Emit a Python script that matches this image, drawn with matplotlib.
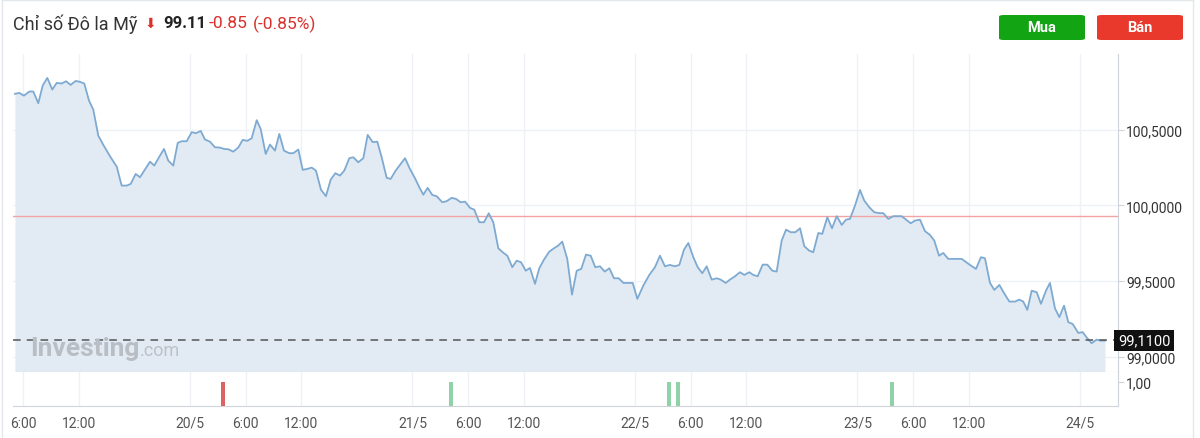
import matplotlib
matplotlib.use("Agg")
import matplotlib.pyplot as plt
from matplotlib.patches import FancyBboxPatch
from matplotlib.lines import Line2D
from matplotlib.ticker import FuncFormatter

plt.rcParams['font.family'] = ['Roboto', 'DejaVu Sans']

# hours counted from 19/5 00:00
hours = [5.12, 5.59, 6.09, 6.67, 7.10, 7.64, 8.11, 8.61, 9.15, 9.62,
         10.16, 10.63, 11.13, 11.67, 12.14, 12.60, 13.11, 13.57, 14.11, 14.65,
         15.37, 16.10, 16.63, 17.17, 17.61, 18.14, 18.61, 19.15, 19.69, 20.15,
         20.66, 21.20, 21.66, 22.20, 22.68, 23.11, 23.65, 24.19, 24.65, 25.16,
         25.62, 26.16, 26.70, 27.24, 27.67, 28.13, 28.67, 29.21, 29.69, 30.18,
         30.66, 31.20, 31.63, 32.17, 32.63, 33.17, 33.64, 34.14, 34.71, 35.15,
         35.69, 36.16, 36.66, 37.13, 37.59, 38.13, 38.67, 39.18, 39.68, 40.18,
         40.65, 41.19, 41.62, 42.16, 42.70, 43.17, 43.71, 44.21, 44.68, 45.22,
         45.65, 46.19, 46.73, 47.20, 47.73, 48.27, 48.74, 49.17, 49.64, 50.14,
         50.61, 51.22, 51.69, 52.23, 52.70, 53.20, 53.67, 54.21, 54.67, 55.21,
         55.72, 56.23, 56.72, 57.26, 57.73, 58.23, 58.77, 59.24, 59.71, 60.22,
         60.68, 61.22, 61.68, 62.19, 62.76, 63.27, 63.73, 64.16, 64.70, 65.21,
         65.72, 66.21, 66.72, 67.23, 67.72, 68.23, 68.74, 69.24, 69.74, 70.25,
         70.75, 71.76, 72.26, 72.90, 73.55, 74.16, 74.70, 75.24, 75.78, 76.32,
         76.79, 77.29, 77.76, 78.30, 78.77, 79.27, 79.74, 80.28, 80.82, 81.25,
         81.79, 82.25, 82.79, 83.33, 83.80, 84.34, 84.77, 85.24, 85.78, 86.28,
         86.82, 87.29, 87.83, 88.30, 88.81, 89.30, 89.81, 90.27, 90.78, 91.24,
         91.78, 92.21, 92.75, 93.26, 93.77, 94.31, 94.77, 95.20, 95.74, 96.28,
         96.74, 97.28, 97.82, 98.36, 98.79, 99.33, 99.87, 100.77, 101.75, 102.21,
         102.75, 103.29, 103.83, 104.29, 104.80, 105.26, 105.80, 107.25, 108.14, 108.79,
         109.33, 109.76, 110.30, 110.77, 111.31, 111.81, 112.39, 113.00, 113.46, 113.89,
         114.33, 114.80, 115.34, 115.80, 116.34, 116.77, 117.31, 117.78, 118.29, 118.75,
         119.22, 119.83, 120.30, 120.80, 121.27, 121.81, 122.24, 122.70]

prices = [100.737, 100.743, 100.725, 100.752, 100.752, 100.675, 100.791, 100.842, 100.765, 100.809,
          100.805, 100.820, 100.796, 100.822, 100.816, 100.805, 100.692, 100.633, 100.461, 100.400,
          100.325, 100.256, 100.131, 100.131, 100.142, 100.208, 100.186, 100.237, 100.289, 100.263,
          100.318, 100.373, 100.296, 100.263, 100.413, 100.424, 100.424, 100.484, 100.477, 100.492,
          100.435, 100.421, 100.384, 100.382, 100.373, 100.371, 100.355, 100.382, 100.433, 100.426,
          100.444, 100.563, 100.505, 100.340, 100.402, 100.362, 100.472, 100.362, 100.345, 100.345,
          100.369, 100.235, 100.241, 100.250, 100.230, 100.104, 100.061, 100.170, 100.213, 100.197,
          100.230, 100.312, 100.318, 100.285, 100.312, 100.466, 100.418, 100.421, 100.318, 100.182,
          100.175, 100.230, 100.274, 100.312, 100.241, 100.180, 100.120, 100.071, 100.116, 100.069,
          100.061, 100.021, 100.028, 100.050, 100.043, 100.021, 100.025, 99.984, 99.972, 99.889,
          99.889, 99.948, 99.889, 99.717, 99.691, 99.668, 99.592, 99.635, 99.625, 99.569,
          99.587, 99.482, 99.585, 99.642, 99.695, 99.717, 99.735, 99.761, 99.647, 99.411,
          99.569, 99.581, 99.675, 99.668, 99.592, 99.598, 99.563, 99.585, 99.519, 99.519,
          99.488, 99.488, 99.383, 99.470, 99.541, 99.592, 99.668, 99.598, 99.607, 99.598,
          99.607, 99.708, 99.752, 99.658, 99.592, 99.552, 99.598, 99.510, 99.519, 99.510,
          99.488, 99.510, 99.532, 99.559, 99.541, 99.559, 99.541, 99.532, 99.609, 99.609,
          99.569, 99.563, 99.768, 99.840, 99.823, 99.823, 99.849, 99.731, 99.702, 99.691,
          99.818, 99.812, 99.922, 99.849, 99.929, 99.871, 99.906, 99.911, 99.999, 100.102,
          100.032, 99.988, 99.955, 99.949, 99.949, 99.911, 99.929, 99.929, 99.882, 99.900,
          99.906, 99.830, 99.805, 99.768, 99.668, 99.686, 99.647, 99.647, 99.607, 99.581,
          99.658, 99.651, 99.488, 99.442, 99.475, 99.422, 99.365, 99.365, 99.378, 99.365,
          99.310, 99.437, 99.427, 99.350, 99.437, 99.488, 99.321, 99.262, 99.338, 99.229,
          99.217, 99.158, 99.163, 99.123, 99.090, 99.114, 99.107, 99.107]

prev_close = 99.93
last_price = 99.11

signal_hours = [27.56, 52.16, 75.67, 76.64, 99.73]
signal_types = ['sell', 'buy', 'buy', 'buy', 'buy']

tick_hours = [6, 12, 24, 30, 36, 48, 54, 60, 72, 78, 84, 96, 102, 108, 120]
tick_labels = ['6:00', '12:00', '20/5', '6:00', '12:00', '21/5', '6:00', '12:00',
               '22/5', '6:00', '12:00', '23/5', '6:00', '12:00', '24/5']
price_ticks = [99.0, 99.5, 100.0, 100.5]

W, H = 1200, 439
fig = plt.figure(figsize=(12, 4.39), dpi=100)
fig.patch.set_facecolor('white')

ax = fig.add_axes([13 / W, 1 - 373 / H, 1105 / W, 318 / H])
ax2 = fig.add_axes([13 / W, 1 - 407 / H, 1105 / W, 34 / H], sharex=ax)

grid_c = '#eef1f6'
spine_c = '#cfd4dc'
line_c = '#7eaad2'
fill_c = '#e2ebf4'

ax.fill_between(hours, prices, 98.9, color=fill_c, lw=0, zorder=1)
ax.plot(hours, prices, color=line_c, lw=1.3, zorder=3)
ax.axhline(prev_close, color='#f2a3a3', lw=1.0, zorder=2)
ax.axhline(last_price, color='#555555', lw=1.1, ls=(0, (5, 4)), zorder=4)

ax.set_xlim(4.91, 124.11)
ax.set_ylim(98.9, 101.0)
ax.set_xticks(tick_hours)
ax.set_yticks(price_ticks)
ax.yaxis.tick_right()
ax.yaxis.set_major_formatter(FuncFormatter(lambda v, p: f"{v:.4f}".replace('.', ',')))
ax.tick_params(axis='x', length=0, labelbottom=False)
ax.tick_params(axis='y', length=4, width=0.8, color=spine_c, pad=2,
               labelsize=10, labelcolor='#333333')
ax.grid(True, color=grid_c, lw=1)
ax.set_axisbelow(True)
for s in ['top', 'left']:
    ax.spines[s].set_visible(False)
for s in ['right', 'bottom']:
    ax.spines[s].set_color(spine_c)

ax.text(1.0, last_price, '99,1100', transform=ax.get_yaxis_transform(),
        ha='left', va='center', color='white', fontsize=10.5, zorder=6,
        bbox=dict(boxstyle='square,pad=0.25', fc='#111111', ec='none'),
        clip_on=False)

sig_colors = {'sell': '#dd6262', 'buy': '#8fd2a8'}
ax2.bar(signal_hours, [1.0] * len(signal_hours), width=0.42,
        color=[sig_colors[t] for t in signal_types], zorder=3)
ax2.set_ylim(0, 1.42)
ax2.set_yticks([1.0])
ax2.yaxis.tick_right()
ax2.yaxis.set_major_formatter(FuncFormatter(lambda v, p: f"{v:.2f}".replace('.', ',')))
ax2.set_xticks(tick_hours)
ax2.set_xticklabels(tick_labels)
ax2.tick_params(axis='x', length=0, pad=7, labelsize=10, labelcolor='#555555')
ax2.tick_params(axis='y', length=4, width=0.8, color=spine_c, pad=2,
                labelsize=10, labelcolor='#333333')
ax2.grid(True, axis='x', color=grid_c, lw=1)
ax2.set_axisbelow(True)
for s in ['top', 'left']:
    ax2.spines[s].set_visible(False)
for s in ['right', 'bottom']:
    ax2.spines[s].set_color(spine_c)
ax.set_xlim(4.91, 124.11)

# watermark
fig.text(30 / W, 1 - 349 / H, 'Investing', fontsize=19, fontweight='bold',
         color='#b9bec4', ha='left', va='center')
fig.text(140 / W, 1 - 351 / H, '.com', fontsize=13, color='#bcc1c7',
         ha='left', va='center')

# header
fig.text(13 / W, 1 - 24 / H, 'Chỉ số Đô la Mỹ', fontsize=13, color='#333333',
         ha='left', va='center')
fig.text(145 / W, 1 - 24 / H, '⬇', fontsize=10, color='#d9302c',
         ha='left', va='center', family=['DejaVu Sans'])
fig.text(163 / W, 1 - 24 / H, '99.11', fontsize=12, fontweight='bold',
         color='#222222', ha='left', va='center')
fig.text(209 / W, 1 - 24 / H, '-0.85', fontsize=12.5, color='#d9302c',
         ha='left', va='center')
fig.text(253 / W, 1 - 24 / H, '(-0.85%)', fontsize=12.5, color='#d9302c',
         ha='left', va='center')

for x0, label, col in [(999, 'Mua', '#12a412'), (1097, 'Bán', '#e8392c')]:
    btn = FancyBboxPatch((x0 / W, 1 - 41 / H), 86 / W, 25 / H,
                         boxstyle='round,pad=0,rounding_size=0.004',
                         transform=fig.transFigure, fc=col, ec='none')
    fig.patches.append(btn)
    fig.text((x0 + 43) / W, 1 - 28.5 / H, label, fontsize=10.5, fontweight='bold',
             color='white', ha='center', va='center')

# card border
for xs, ys in [([2 / W, 2 / W], [0, 1]), ([1193 / W, 1193 / W], [0, 1]),
               ([2 / W, 1193 / W], [1 - 1 / H, 1 - 1 / H])]:
    fig.add_artist(Line2D(xs, ys, transform=fig.transFigure, color='#e3e6ea', lw=1))

fig.savefig('out.png', dpi=100)
